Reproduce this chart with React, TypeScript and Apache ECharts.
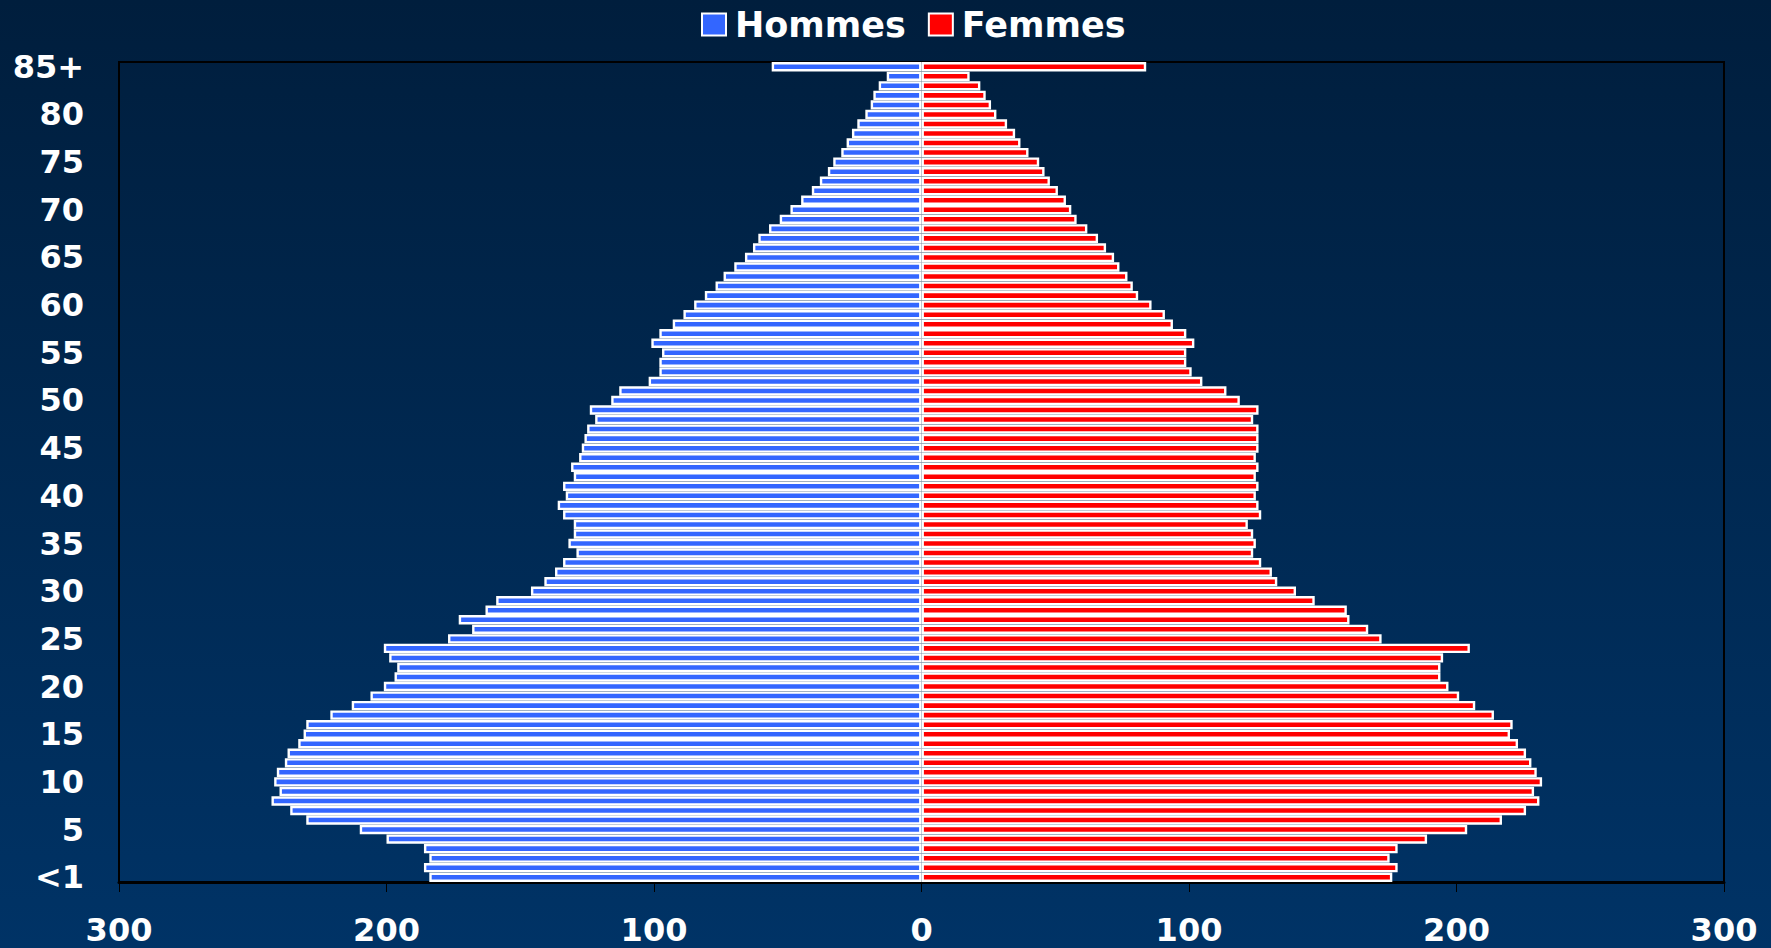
import React, { useEffect, useRef } from "react";
import * as echarts from "echarts";

const ages: string[] = ["<1"];
for (let i = 1; i <= 84; i++) ages.push(String(i));
ages.push("85+");

// index 0 = "<1" ... index 85 = "85+"
const hommes: number[] = [
  184, 186, 184, 186, 200, 210, 230, 236, 243, 240,
  242, 241, 238, 237, 233, 231, 230, 221, 213, 206,
  201, 197, 196, 199, 201, 177, 168, 173, 163, 159,
  146, 141, 137, 134, 129, 132, 130, 130, 134, 136,
  133, 134, 130, 131, 128, 127, 126, 125, 122, 124,
  116, 113, 102, 98, 98, 97, 101, 98, 93, 89,
  85, 81, 77, 74, 70, 66, 63, 61, 57, 53,
  49, 45, 41, 38, 35, 33, 30, 28, 26, 24,
  21, 19, 18, 16, 13, 56,
];

const femmes: number[] = [
  176, 178, 175, 178, 189, 204, 217, 226, 231, 229,
  232, 230, 228, 226, 223, 220, 221, 214, 207, 201,
  197, 194, 194, 195, 205, 172, 167, 160, 159, 147,
  140, 133, 131, 127, 124, 125, 124, 122, 127, 126,
  125, 126, 125, 126, 125, 126, 126, 126, 124, 126,
  119, 114, 105, 101, 99, 99, 102, 99, 94, 91,
  86, 81, 79, 77, 74, 72, 69, 66, 62, 58,
  56, 54, 51, 48, 46, 44, 40, 37, 35, 32,
  28, 26, 24, 22, 18, 84,
];

const xMin = -300;
const xMax = 300;
const xInterval = 100;

export default function App() {
  const ref = useRef<HTMLDivElement>(null);

  useEffect(() => {
    document.body.style.margin = "0";
    document.body.style.overflow = "hidden";
    if (!ref.current) return;
    const chart = echarts.init(ref.current, undefined, { renderer: "svg" });
    const font = "DejaVu Sans";
    chart.setOption({
      animation: false,
      backgroundColor: new echarts.graphic.LinearGradient(0, 0, 0, 1, [
        { offset: 0, color: "#001e3d" },
        { offset: 1, color: "#003366" },
      ]),
      legend: {
        data: ["Hommes", "Femmes"],
        left: 696,
        top: 2,
        itemWidth: 24,
        itemHeight: 22,
        itemGap: 22,
        icon: "rect",
        textStyle: {
          color: "#ffffff",
          fontFamily: font,
          fontWeight: "bold",
          fontSize: 35,
          padding: [0, 0, 0, 4],
        },
      },
      grid: {
        left: 119,
        right: 47,
        top: 62,
        bottom: 66,
        show: true,
        borderColor: "#000000",
        borderWidth: 2,
        backgroundColor: "transparent",
      },
      xAxis: {
        type: "value",
        min: xMin,
        max: xMax,
        interval: xInterval,
        splitLine: { show: false },
        axisLine: { show: true, lineStyle: { color: "#000000", width: 3 } },
        axisTick: { show: true, length: 10, lineStyle: { color: "#000000", width: 1 } },
        axisLabel: {
          color: "#ffffff",
          fontFamily: font,
          fontWeight: "bold",
          fontSize: 32,
          margin: 32,
          formatter: (v: number) => String(Math.abs(v)),
        },
      },
      yAxis: {
        type: "category",
        data: ages,
        axisLine: { show: false, onZero: false },
        axisTick: { show: false },
        splitLine: { show: false },
        axisLabel: {
          color: "#ffffff",
          fontFamily: font,
          fontWeight: "bold",
          fontSize: 32,
          margin: 35,
          interval: (index: number) => index % 5 === 0,
        },
      },
      series: [
        {
          name: "Hommes",
          type: "bar",
          stack: "total",
          data: hommes.map((v) => -v),
          barCategoryGap: "2%",
          itemStyle: { color: "#3366ff", borderColor: "#ffffff", borderWidth: 2.4 },
        },
        {
          name: "Femmes",
          type: "bar",
          stack: "total",
          data: femmes,
          barCategoryGap: "2%",
          itemStyle: { color: "#ff0000", borderColor: "#ffffff", borderWidth: 2.4 },
        },
      ],
    });
    return () => chart.dispose();
  }, []);

  return <div ref={ref} style={{ width: 1771, height: 948 }} />;
}
